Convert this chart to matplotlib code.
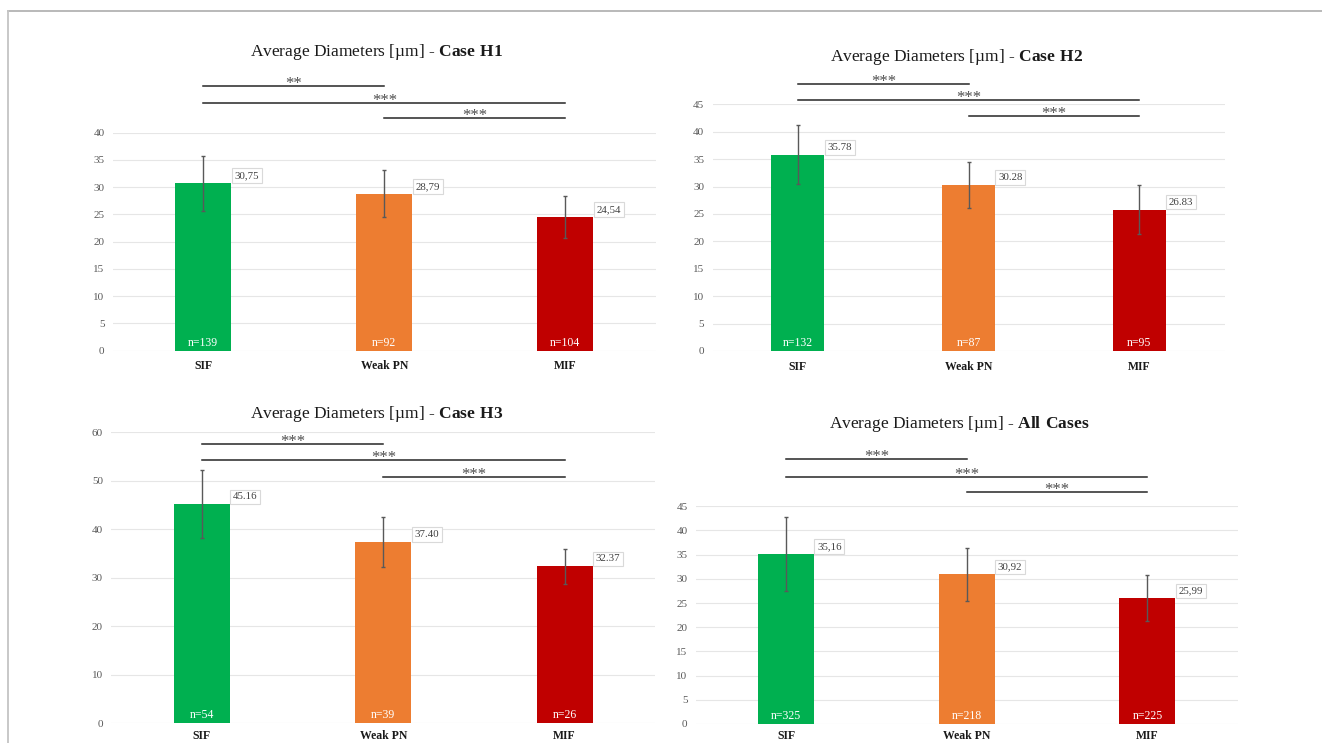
import matplotlib
matplotlib.use('Agg')
import matplotlib.pyplot as plt
from matplotlib.lines import Line2D

plt.rcParams['font.family'] = ['Liberation Serif', 'DejaVu Serif']
plt.rcParams['mathtext.fontset'] = 'custom'
plt.rcParams['mathtext.rm'] = 'Liberation Serif'
plt.rcParams['mathtext.bf'] = 'Liberation Serif:bold'

categories = ['SIF', 'Weak PN', 'MIF']
colors = ['#00b050', '#ed7d31', '#c00000']
pairs = [(0, 1), (0, 2), (1, 2)]

h1_mean = [30.75, 28.79, 24.54]
h1_err = [5.05, 4.3, 3.85]
h1_n = [139, 92, 104]
h1_lab = ['30,75', '28,79', '24,54']
h1_sig = ['**', '***', '***']

h2_mean = [35.78, 30.28, 25.8]
h2_err = [5.4, 4.2, 4.4]
h2_n = [132, 87, 95]
h2_lab = ['35.78', '30.28', '26.83']
h2_sig = ['***', '***', '***']

h3_mean = [45.16, 37.40, 32.37]
h3_err = [7.0, 5.15, 3.55]
h3_n = [54, 39, 26]
h3_lab = ['45.16', '37.40', '32.37']
h3_sig = ['***', '***', '***']

all_mean = [35.16, 30.92, 25.99]
all_err = [7.6, 5.45, 4.75]
all_n = [325, 218, 225]
all_lab = ['35,16', '30,92', '25,99']
all_sig = ['***', '***', '***']

panels = [
    dict(case='Case H1', mean=h1_mean, err=h1_err, n=h1_n, lab=h1_lab, sig=h1_sig,
         rect=[0.0853, 0.5280, 0.4108, 0.2934], ymax=40, step=5, xpad=7,
         title_xy=(0.486, 1.372), sig_y=[48.57, 45.39, 42.64]),
    dict(case='Case H2', mean=h2_mean, err=h2_err, n=h2_n, lab=h2_lab, sig=h2_sig,
         rect=[0.5390, 0.5276, 0.3874, 0.3320], ymax=45, step=5, xpad=7,
         title_xy=(0.4766, 1.193), sig_y=[48.66, 45.8, 42.94]),
    dict(case='Case H3', mean=h3_mean, err=h3_err, n=h3_n, lab=h3_lab, sig=h3_sig,
         rect=[0.0842, 0.0265, 0.4115, 0.3917], ymax=60, step=10, xpad=4.5,
         title_xy=(0.488, 1.062), sig_y=[57.59, 54.23, 50.72]),
    dict(case='All Cases', mean=all_mean, err=all_err, n=all_n, lab=all_lab, sig=all_sig,
         rect=[0.5263, 0.0256, 0.4100, 0.2930], ymax=45, step=5, xpad=4.5,
         title_xy=(0.4865, 1.377), sig_y=[54.71, 51.12, 47.95]),
]

fig = plt.figure(figsize=(13.22, 7.43), dpi=100)

for p in panels:
    ax = fig.add_axes(p['rect'])
    x = list(range(len(categories)))
    w = 0.31
    ax.bar(x, p['mean'], width=w, color=colors, zorder=2)
    ax.errorbar(x, p['mean'], yerr=p['err'], fmt='none', ecolor='#595959',
                elinewidth=1, capsize=1.5, capthick=1, zorder=3)

    for i in x:
        ax.annotate(p['lab'][i], (i + w / 2, p['mean'][i]), xytext=(3, 3),
                    textcoords='offset pixels', ha='left', va='bottom',
                    fontsize=7.8, color='#404040', zorder=4,
                    bbox=dict(boxstyle='square,pad=0.25', fc='white', ec='#d9d9d9', lw=0.8))
        ax.annotate('n=%d' % p['n'][i], (i, 0), xytext=(0, 8), textcoords='offset pixels',
                    ha='center', va='center', fontsize=8.5, color='white', zorder=4)

    for (a, b), y, s in zip(pairs, p['sig_y'], p['sig']):
        ax.plot([a, b], [y, y], color='#262626', lw=1.1, clip_on=False)
        ax.annotate(s, ((a + b) / 2, y), xytext=(0, -2), textcoords='offset pixels',
                    ha='center', va='baseline', fontsize=12, color='#4d4d4d',
                    annotation_clip=False)

    ax.text(p['title_xy'][0], p['title_xy'][1],
            'Average Diameters [µm] - $\\mathbf{%s}$' % p['case'].replace(' ', '\\ '),
            transform=ax.transAxes, ha='center', va='center', fontsize=12.5, color='#1a1a1a')

    ax.set_xlim(-0.5, 2.5)
    ax.set_ylim(0, p['ymax'])
    ax.set_yticks(range(0, p['ymax'] + 1, p['step']))
    ax.set_xticks(x, categories, fontsize=8.5, fontweight='bold', color='#1a1a1a')
    ax.grid(axis='y', color='#e6e6e6', lw=0.8, zorder=0)
    ax.set_axisbelow(True)
    for s in ax.spines.values():
        s.set_visible(False)
    ax.tick_params(length=0)
    ax.tick_params(axis='y', labelsize=8, labelcolor='#595959', pad=6)
    ax.tick_params(axis='x', pad=p['xpad'])

fig.add_artist(Line2D([8 / 1322, 1], [1 - 10.5 / 743] * 2, color='#b3b3b3', lw=1.3))
fig.add_artist(Line2D([8 / 1322] * 2, [0, 1 - 10.5 / 743], color='#c4c4c4', lw=1.3))

fig.savefig('out.png', dpi=100)
